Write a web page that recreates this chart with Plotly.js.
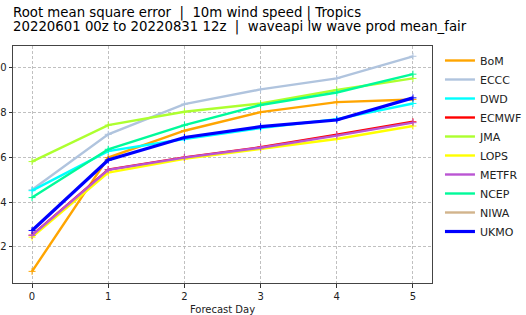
<!DOCTYPE html>
<html>
<head>
<meta charset="utf-8">
<script src="https://cdn.plot.ly/plotly-3.0.1.min.js"></script>
<style>html,body{margin:0;padding:0;background:#fff;}#chart{width:526px;height:315px;}</style>
</head>
<body>
<div id="chart"></div>
<script>
const forecastDays = [0, 1, 2, 3, 4, 5];
const modelNames = ['BoM', 'ECCC', 'DWD', 'ECMWF', 'JMA', 'LOPS', 'METFR', 'NCEP', 'NIWA', 'UKMO'];
const bom   = [1.090, 1.599, 1.719, 1.802, 1.847, 1.859];
const eccc  = [1.455, 1.703, 1.838, 1.904, 1.953, 2.052];
const dwd   = [1.451, 1.628, 1.682, 1.731, 1.771, 1.841];
const ecmwf = [1.252, 1.545, 1.600, 1.645, 1.701, 1.759];
const jma   = [1.581, 1.744, 1.804, 1.841, 1.901, 1.953];
const lops  = [1.243, 1.532, 1.593, 1.637, 1.682, 1.740];
const metfr = [1.251, 1.544, 1.599, 1.643, 1.697, 1.755];
const ncep  = [1.420, 1.636, 1.744, 1.834, 1.890, 1.972];
const niwa  = [null, null, null, null, null, null];
const ukmo  = [1.273, 1.588, 1.689, 1.737, 1.767, 1.866];
const yTickVals = [1.2, 1.4, 1.6, 1.8, 2.0];
const yTickText = ['1.2', '1.4', '1.6', '1.8', '2.0'];
const titleLines = [
  'Root mean square error  |  10m wind speed | Tropics',
  '20220601 00z to 20220831 12z  |  waveapi lw wave prod mean_fair'
];

const seriesValues = [bom, eccc, dwd, ecmwf, jma, lops, metfr, ncep, niwa, ukmo];
const colors = ['#FFA500', '#B0C4DE', '#00FFFF', '#FF0000', '#ADFF2F', '#FFFF00', '#BA55D3', '#00FA9A', '#D2B48C', '#0000FF'];
const widths = [2.4, 2.4, 2.4, 2.4, 2.4, 2.4, 2.4, 2.4, 2.4, 3.2];

const traces = [];
modelNames.forEach((name, i) => {
  traces.push({
    type: 'scatter', mode: 'lines', name: name,
    x: forecastDays, y: seriesValues[i],
    line: {color: colors[i], width: widths[i]},
    showlegend: true, legendrank: i + 1
  });
  traces.push({
    type: 'scatter', mode: 'markers', name: name,
    x: forecastDays, y: seriesValues[i],
    marker: {symbol: 'cross-thin', size: 5, color: colors[i], line: {color: colors[i], width: 1}},
    showlegend: false
  });
});

const font = 'DejaVu Sans, sans-serif';
const plotTop = 46, plotH = 315 - 46 - 32;
const annots = titleLines.map((t, k) => ({
  text: t, xref: 'paper', x: 0, xanchor: 'left', xshift: -2,
  yref: 'paper', y: 1 + (plotTop - (13 + k * 13.7)) / plotH, yanchor: 'middle',
  showarrow: false, font: {family: font, size: 13.3, color: '#000'}
}));

const layout = {
  width: 526, height: 315,
  paper_bgcolor: '#fff', plot_bgcolor: '#fff',
  margin: {l: 13, r: 94, t: 46, b: 32, pad: 0, autoexpand: false},
  font: {family: font, size: 10, color: '#222'},
  annotations: annots,
  xaxis: {
    range: [-0.25, 5.25],
    tickvals: forecastDays,
    ticks: 'outside', ticklen: 3.5, tickwidth: 1, tickcolor: '#333',
    showgrid: true, gridcolor: '#b0b0b0', griddash: '3px,2px', gridwidth: 0.8,
    zeroline: false,
    showline: true, mirror: true, linecolor: '#444', linewidth: 1,
    tickfont: {family: font, size: 10, color: '#222'},
    title: {text: 'Forecast Day', font: {family: font, size: 10, color: '#222'}, standoff: 5},
    automargin: false
  },
  yaxis: {
    range: [1.038, 2.098],
    tickvals: yTickVals, ticktext: yTickText,
    ticks: 'outside', ticklen: 3.5, tickwidth: 1, tickcolor: '#333',
    showgrid: true, gridcolor: '#b0b0b0', griddash: '3px,2px', gridwidth: 0.8,
    zeroline: false,
    showline: true, mirror: true, linecolor: '#444', linewidth: 1,
    tickfont: {family: font, size: 10, color: '#222'},
    automargin: false
  },
  legend: {
    x: 1.019, xanchor: 'left', y: 1.0, yanchor: 'top',
    bgcolor: 'rgba(0,0,0,0)', borderwidth: 0,
    font: {family: font, size: 11, color: '#222'},
    itemwidth: 30, tracegroupgap: 0, traceorder: 'normal'
  },
  showlegend: true
};

Plotly.newPlot('chart', traces, layout, {staticPlot: true, displayModeBar: false});
</script>
</body>
</html>
